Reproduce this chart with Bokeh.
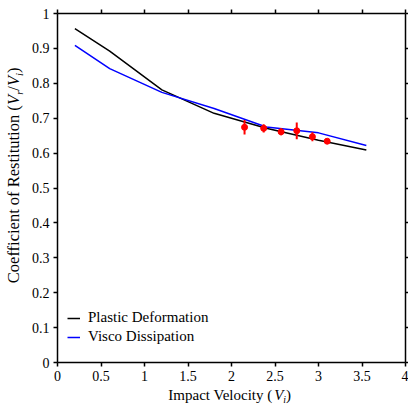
import math
from bokeh.plotting import figure
from bokeh.layouts import column, row
from bokeh.models import (LinearAxis, FixedTicker, Range1d, Label, Legend, LegendItem,
                          CustomJSTickFormatter)
from bokeh.embed import file_html
from bokeh.resources import INLINE

# ---------------- data ----------------
sim_velocity = [0.2, 0.6, 1.2, 1.8, 2.4, 3.0, 3.55]
plastic_deformation = [0.957, 0.892, 0.781, 0.714, 0.671, 0.637, 0.609]
visco_dissipation = [0.909, 0.842, 0.774, 0.728, 0.675, 0.658, 0.622]

exp_velocity = [2.15, 2.37, 2.57, 2.75, 2.93, 3.10]
exp_cor = [0.674, 0.671, 0.661, 0.664, 0.647, 0.634]
exp_err = [0.021, 0.012, 0.010, 0.024, 0.013, 0.004]

x_ticks = [0, 0.5, 1, 1.5, 2, 2.5, 3, 3.5, 4]
x_tick_labels = ["0", "0.5", "1", "1.5", "2", "2.5", "3", "3.5", "4"]
y_ticks = [0, 0.1, 0.2, 0.3, 0.4, 0.5, 0.6, 0.7, 0.8, 0.9, 1]
y_tick_labels = ["0", "0.1", "0.2", "0.3", "0.4", "0.5", "0.6", "0.7", "0.8", "0.9", "1"]

series_names = ["Plastic Deformation", "Visco Dissipation"]

FONT = "Liberation Serif"
YSTRIP_W = 26

# ---------------- main figure ----------------
p = figure(width=408 - YSTRIP_W, height=386, x_range=Range1d(0, 4), y_range=Range1d(0, 1),
           output_backend="svg", toolbar_location=None,
           min_border_left=57 - YSTRIP_W, min_border_right=3, min_border_top=13,
           min_border_bottom=24)
p.xgrid.visible = False
p.ygrid.visible = False
p.outline_line_color = None
p.background_fill_color = "white"
p.border_fill_color = "white"


def style_axis(ax, ticks, labels, show_labels=True, standoff=4, tick_out=4):
    ax.ticker = FixedTicker(ticks=ticks)
    ax.axis_line_color = "black"
    ax.axis_line_width = 1.5
    ax.major_tick_line_color = "black"
    ax.major_tick_line_width = 1.5
    ax.major_tick_in = 0
    ax.major_tick_out = tick_out
    ax.minor_tick_line_color = None
    ax.major_label_text_font = FONT
    ax.major_label_text_font_style = "normal"
    ax.major_label_text_color = "black"
    if show_labels:
        ax.major_label_overrides = {float(t): l for t, l in zip(ticks, labels)}
        ax.major_label_text_font_size = "14px"
        ax.major_label_standoff = standoff
    else:
        ax.formatter = CustomJSTickFormatter(code="return ''")
        ax.major_label_text_font_size = "0px"
        ax.major_label_standoff = 0


style_axis(p.xaxis[0], x_ticks, x_tick_labels, True, standoff=4)
style_axis(p.yaxis[0], y_ticks, y_tick_labels, True, standoff=4)

top_ax = LinearAxis()
style_axis(top_ax, x_ticks, x_tick_labels, False, tick_out=4)
p.add_layout(top_ax, "above")
right_ax = LinearAxis()
style_axis(right_ax, y_ticks, y_tick_labels, False, tick_out=3)
p.add_layout(right_ax, "right")

# ---------------- lines ----------------
r_plastic = p.line(sim_velocity, plastic_deformation, line_color="black", line_width=1.5)
r_visco = p.line(sim_velocity, visco_dissipation, line_color="#0000ff", line_width=1.5)

# ---------------- experimental points with error bars ----------------
err_lo = [y - e for y, e in zip(exp_cor, exp_err)]
err_hi = [y + e for y, e in zip(exp_cor, exp_err)]
p.segment(x0=exp_velocity, y0=err_lo, x1=exp_velocity, y1=err_hi,
          line_color="#ff0000", line_width=2)
p.scatter(exp_velocity, exp_cor, size=6, fill_color="#ff0000", line_color="#ff0000")

# ---------------- legend ----------------
legend = Legend(items=[LegendItem(label=series_names[0], renderers=[r_plastic]),
                       LegendItem(label=series_names[1], renderers=[r_visco])],
                location=(10, 17))
legend.label_text_font = FONT
legend.label_text_font_size = "15px"
legend.label_text_font_style = "normal"
legend.label_text_color = "black"
legend.glyph_width = 13
legend.glyph_height = 6
legend.label_height = 16
legend.label_standoff = 8
legend.spacing = 2
legend.padding = 0
legend.margin = 0
legend.border_line_color = None
legend.background_fill_alpha = 0
p.add_layout(legend, "center")


# ---------------- title strips (separate small figures) ----------------
def strip(w, h):
    f = figure(width=w, height=h, x_range=Range1d(0, w), y_range=Range1d(0, h),
               output_backend="svg", toolbar_location=None,
               min_border=0, x_axis_location=None, y_axis_location=None)
    f.xgrid.visible = False
    f.ygrid.visible = False
    f.outline_line_color = None
    f.background_fill_color = "white"
    f.border_fill_color = "white"
    return f


# Times / Liberation Serif advance widths (1/1000 em)
W_REG = {' ': 250, '(': 333, ')': 333, '/': 278, 'C': 667, 'D': 722, 'I': 333, 'P': 556,
         'R': 667, 'V': 722, 'a': 444, 'c': 444, 'e': 444, 'f': 333, 'i': 278, 'l': 278,
         'm': 778, 'n': 500, 'o': 500, 'p': 500, 'r': 333, 's': 389, 't': 278, 'u': 500,
         'y': 500}
W_IT = {'V': 611, 'i': 278, 'r': 389, '/': 278}


def text_width(s, size, italic):
    tbl = W_IT if italic else W_REG
    return sum(tbl.get(ch, W_REG.get(ch, 500)) for ch in s) * size / 1000.0


def add_rich(fig, segments, x, y, rotated):
    total = sum(text_width(t, s, it) for t, s, it, d in segments)
    pos = -total / 2.0
    for t, s, it, drop in segments:
        if rotated:
            lab = Label(x=x, y=y, x_offset=drop, y_offset=pos, angle=math.pi / 2)
        else:
            lab = Label(x=x, y=y, x_offset=pos, y_offset=-drop)
        lab.text = t
        lab.text_font = FONT
        lab.text_font_size = f"{s}px"
        lab.text_font_style = "italic" if it else "normal"
        lab.text_color = "black"
        lab.text_align = "left"
        lab.text_baseline = "middle"
        fig.add_layout(lab)
        pos += text_width(t, s, it)


xs = 15
xfig = strip(408, 18)
add_rich(xfig, [("Impact Velocity (", xs, False, 0), ("V", xs, True, 0),
                ("i", 9.75, True, 4.8), (")", xs, False, 0)],
         x=229.2, y=10, rotated=False)

ys = 16.5
yfig = strip(YSTRIP_W, 386)
add_rich(yfig, [("Coefficient of Restitution (", ys, False, 0), ("V", ys, True, 0),
                ("r", 10.7, True, 5.3), ("/", ys, False, 0), ("V", ys, True, 0),
                ("i", 10.7, True, 5.3), (")", ys, False, 0)],
         x=13.4, y=207, rotated=True)

layout = column(row(yfig, p), xfig)
open("out.html", "w").write(file_html(layout, INLINE))
